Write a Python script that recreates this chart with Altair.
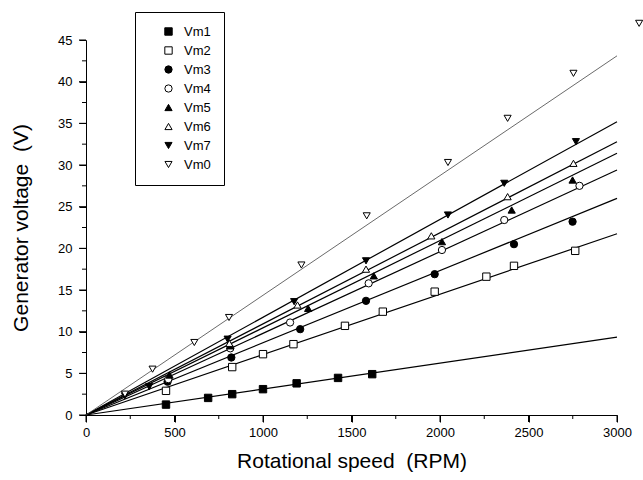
import altair as alt
import pandas as pd

# ---- data ----
series_order = ["Vm1", "Vm2", "Vm3", "Vm4", "Vm5", "Vm6", "Vm7", "Vm0"]
shapes = ["square", "square", "circle", "circle", "triangle-up", "triangle-up",
          "triangle-down", "triangle-down"]
fills = ["black", "white", "black", "white", "black", "white", "black", "white"]
strokes = ["black"] * 8
sizes = [55, 50, 60, 60, 120, 120, 120, 120]

vm1_x = [452, 690, 826, 1000, 1190, 1424, 1617]
vm1_y = [1.25, 2.05, 2.5, 3.1, 3.8, 4.45, 4.9]
vm2_x = [452, 826, 1000, 1172, 1463, 1677, 1970, 2262, 2418, 2764]
vm2_y = [2.9, 5.75, 7.3, 8.5, 10.7, 12.4, 14.8, 16.6, 17.9, 19.7]
vm3_x = [461, 821, 1210, 1582, 1970, 2418, 2749]
vm3_y = [4.0, 6.9, 10.3, 13.7, 16.9, 20.5, 23.2]
vm4_x = [465, 815, 1153, 1597, 2011, 2363, 2788]
vm4_y = [4.3, 8.0, 11.1, 15.8, 19.8, 23.4, 27.5]
vm5_x = [472, 815, 1255, 1626, 2011, 2405, 2749]
vm5_y = [4.8, 8.3, 12.8, 16.7, 20.8, 24.6, 28.2]
vm6_x = [810, 1195, 1582, 1951, 2382, 2754]
vm6_y = [8.6, 13.2, 17.5, 21.5, 26.2, 30.2]
vm7_x = [220, 357, 800, 1176, 1582, 2045, 2363, 2768]
vm7_y = [2.3, 3.4, 9.1, 13.6, 18.5, 24.0, 27.8, 32.8]
vm0_x = [220, 376, 612, 808, 1217, 1586, 2045, 2382, 2754, 3125]
vm0_y = [2.5, 5.5, 8.7, 11.7, 18.0, 23.9, 30.3, 35.6, 41.0, 47.0]

# fitted lines through the origin: value reached at 3000 RPM
fit_x_end = 3000
fit_y_end = {"Vm1": 9.34, "Vm2": 21.75, "Vm3": 26.0, "Vm4": 29.4,
             "Vm5": 31.4, "Vm6": 32.8, "Vm7": 35.2, "Vm0": 43.1}

x_major = list(range(0, 3001, 500))
x_minor = list(range(250, 3000, 500))
y_major = list(range(0, 46, 5))
y_minor = [2.5 + 5 * i for i in range(9)]

# ---- tables ----
pts = []
for name, xs, ys in [("Vm1", vm1_x, vm1_y), ("Vm2", vm2_x, vm2_y), ("Vm3", vm3_x, vm3_y),
                     ("Vm4", vm4_x, vm4_y), ("Vm5", vm5_x, vm5_y), ("Vm6", vm6_x, vm6_y),
                     ("Vm7", vm7_x, vm7_y), ("Vm0", vm0_x, vm0_y)]:
    for a, b in zip(xs, ys):
        pts.append({"series": name, "rpm": a, "v": b})
pts = pd.DataFrame(pts)

fit = []
for name, end in fit_y_end.items():
    fit.append({"series": name, "rpm": 0, "v": 0.0})
    fit.append({"series": name, "rpm": fit_x_end, "v": end})
fit = pd.DataFrame(fit)

FONT = "Liberation Sans"
W, H = 531, 375
MAJOR, MINOR = 7, 4

x_scale = alt.Scale(domain=[0, 3000], nice=False, zero=True)
y_scale = alt.Scale(domain=[0, 45], nice=False, zero=True)

x_axis = alt.Axis(
    values=x_major, ticks=True, tickSize=MAJOR, tickColor="black",
    orient="bottom", title="Rotational speed\u00a0 (RPM)",
    grid=False, labelPadding=4, titlePadding=11, format="d", labelFlush=False,
)
y_axis = alt.Axis(
    values=y_major, ticks=True, tickSize=MAJOR, tickColor="black",
    orient="left", title="Generator voltage\u00a0 (V)",
    grid=False, labelPadding=7, titlePadding=26, format="d", labelFlush=False,
)

# tick marks drawn as rules at the tick values
def xticks(vals, length):
    return alt.Chart(pd.DataFrame({"t": vals})).mark_rule(
        color="black", strokeWidth=1, clip=False).encode(
        x=alt.X("t:Q", scale=x_scale, axis=x_axis),
        y=alt.value(H), y2=alt.value(H + length))

def yticks(vals, length):
    return alt.Chart(pd.DataFrame({"t": vals})).mark_rule(
        color="black", strokeWidth=1, clip=False).encode(
        y=alt.Y("t:Q", scale=y_scale, axis=y_axis),
        x=alt.value(0), x2=alt.value(-length))

lines = alt.Chart(fit).mark_line(clip=False).encode(
    x=alt.X("rpm:Q", scale=x_scale, axis=x_axis),
    y=alt.Y("v:Q", scale=y_scale, axis=y_axis),
    detail="series:N",
    color=alt.condition(alt.datum.series == "Vm0", alt.value("#444444"), alt.value("black")),
    strokeWidth=alt.condition(alt.datum.series == "Vm0", alt.value(0.8), alt.value(1.2)),
)

leg = alt.Legend(title=None)

points = alt.Chart(pts).mark_point(filled=False, strokeWidth=1,
                                   opacity=1, clip=False).encode(
    x=alt.X("rpm:Q", scale=x_scale, axis=x_axis),
    y=alt.Y("v:Q", scale=y_scale, axis=y_axis),
    shape=alt.Shape("series:N", scale=alt.Scale(domain=series_order, range=shapes),
                    legend=leg),
    fill=alt.Fill("series:N", scale=alt.Scale(domain=series_order, range=fills),
                  legend=leg),
    stroke=alt.Stroke("series:N", scale=alt.Scale(domain=series_order, range=strokes),
                      legend=leg),
    size=alt.Size("series:N", scale=alt.Scale(domain=series_order, range=sizes),
                  legend=leg),
)

chart = alt.layer(
    lines, xticks(x_major, MAJOR), xticks(x_minor, MINOR),
    yticks(y_major, MAJOR), yticks(y_minor, MINOR), points,
).properties(
    width=W, height=H,
    autosize=alt.AutoSizeParams(type="none"),
    padding={"left": 86, "top": 40, "right": 26, "bottom": 65},
).configure_view(stroke=None).configure_axis(
    domainColor="black", domainWidth=1,
    labelColor="black", titleColor="black", labelFont=FONT, titleFont=FONT,
    labelFontSize=13, titleFontSize=21, titleFontWeight="normal",
).configure_legend(
    orient="none", legendX=49, legendY=-28,
    strokeColor="black", fillColor="white", padding=13,
    labelFont=FONT, labelFontSize=13, labelColor="black", labelOffset=9,
    symbolStrokeWidth=1, symbolOffset=14,
    rowPadding=5,
)

chart.save("out.html", embed_options={"renderer": "svg", "actions": False})
